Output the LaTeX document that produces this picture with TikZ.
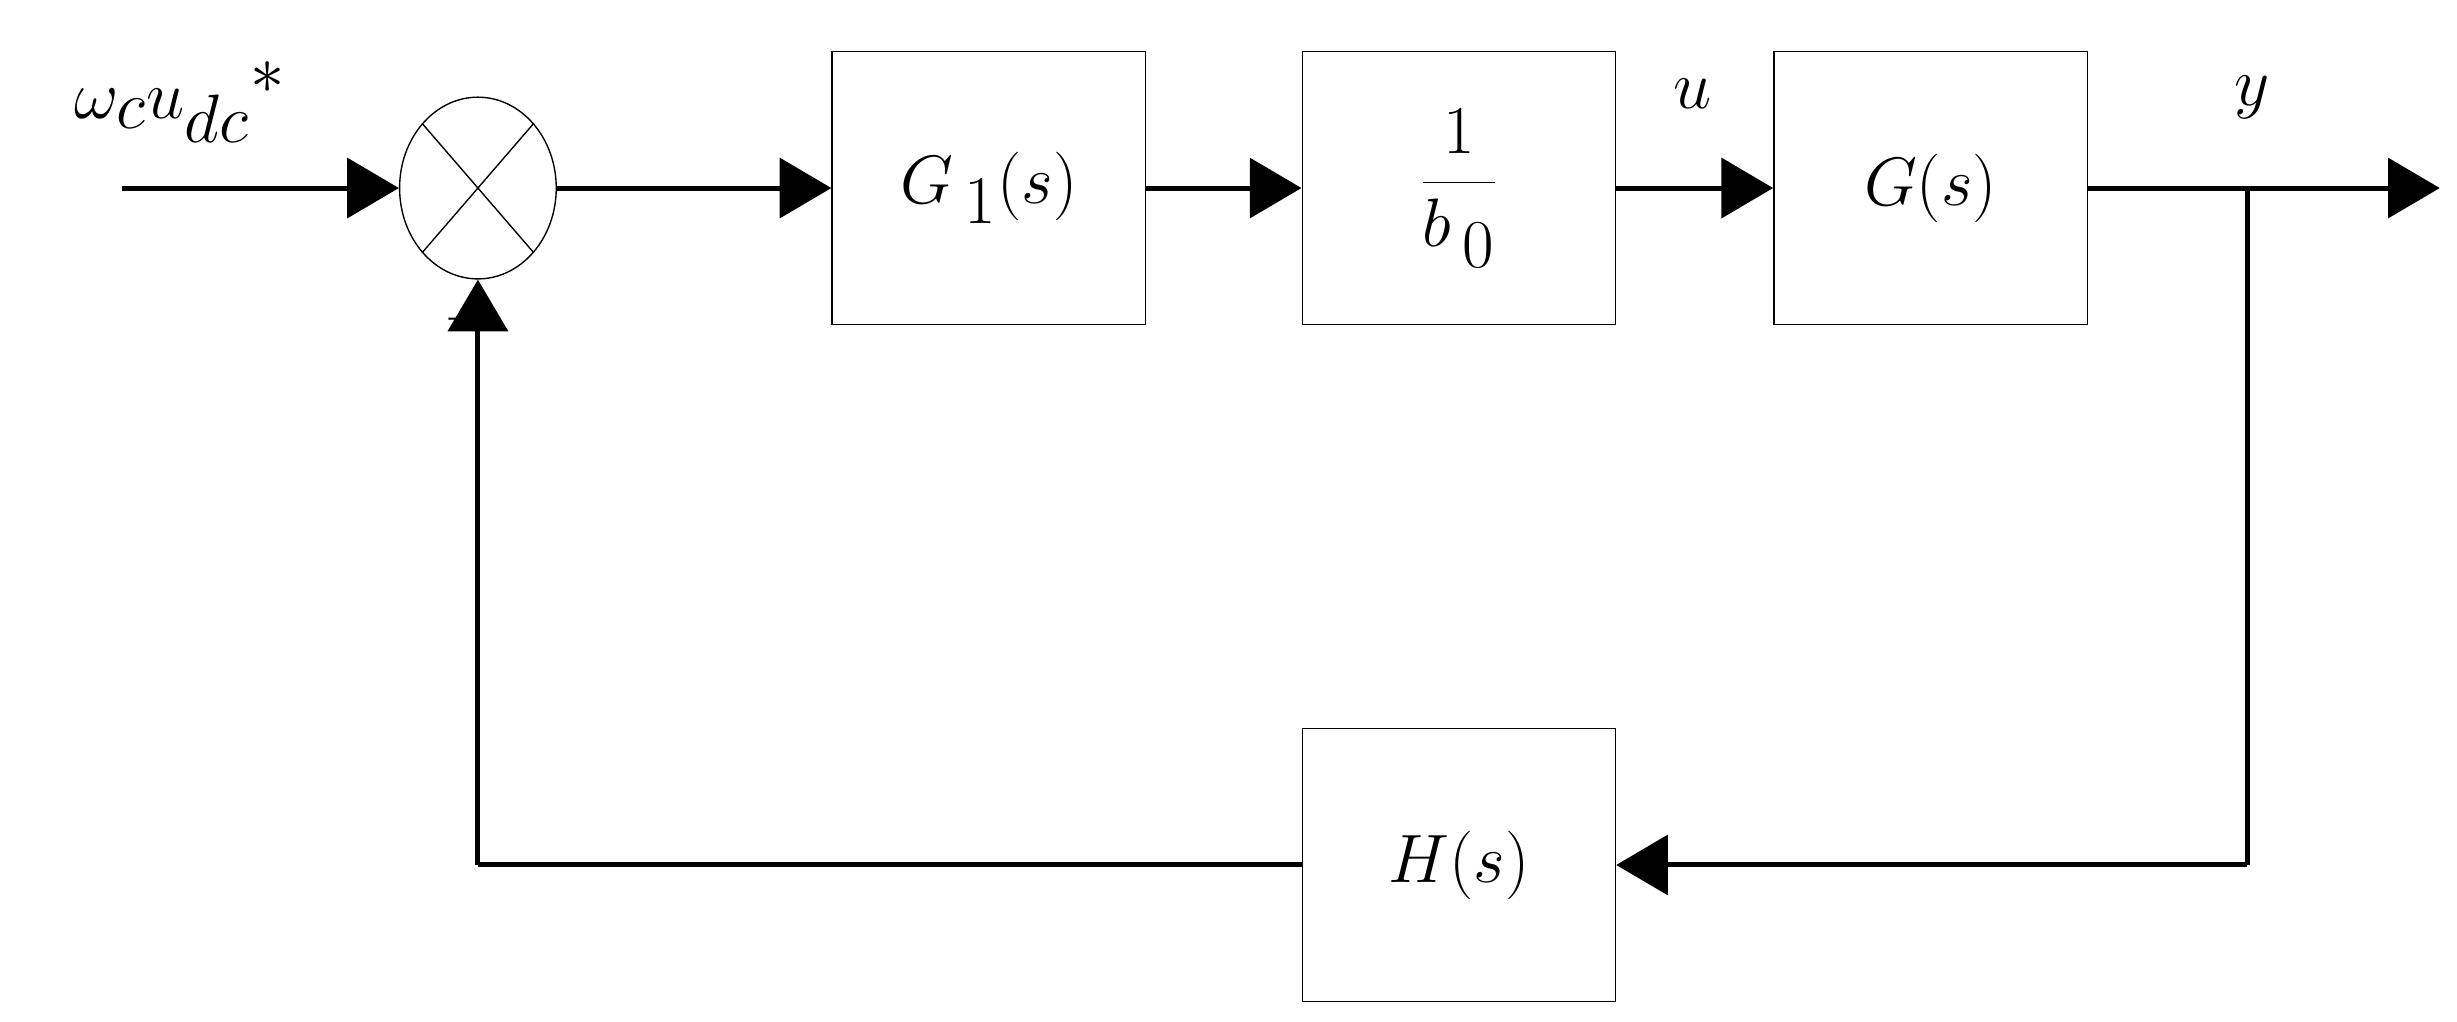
\documentclass[tikz,border=0pt]{standalone}
\usetikzlibrary{arrows.meta,shapes.geometric}
\begin{document}
\begin{tikzpicture}[x=0.02cm,y=-0.02cm,
  blk/.style={draw,line width=0.5pt,minimum width=4cm,minimum height=3.48cm,inner sep=0pt,font=\fontsize{40}{48}\selectfont},
  sig/.style={line width=1.8pt,-{Triangle[length=0.66cm,width=0.76cm]}},
  wire/.style={line width=1.8pt},
  lab/.style={font=\fontsize{40}{48}\selectfont}]
\useasboundingbox (0,0) rectangle (1568,652);
\node[blk] (g1) at (631,120) {$G_{\,1}(s)$};
\node[blk] (b0) at (931,120) {$\displaystyle\frac{1}{b_{\,0}}$};
\node[blk] (g) at (1232,120) {$G(s)$};
\node[blk] (h) at (931,552) {$H(s)$};
\node[draw,ellipse,line width=0.5pt,minimum width=2cm,minimum height=2.32cm,inner sep=0pt] (sum) at (305,120) {};
\draw[line width=0.5pt] (sum.north west) -- (sum.south east) (sum.north east) -- (sum.south west);
\coordinate (in) at (78,120);
\coordinate (out) at (1557,120);
\coordinate (br) at (1434,120);
\coordinate (c1) at (1434,552);
\coordinate (c2) at (305,552);
\draw[sig] (in) -- (sum.west);
\draw[sig] (sum.east) -- (g1.west);
\draw[sig] (g1.east) -- (b0.west);
\draw[sig] (b0.east) -- (g.west);
\draw[sig] (g.east) -- (out);
\draw[wire] (br) -- (c1);
\draw[sig] (c1) -- (h.east);
\draw[wire] (h.west) -- (c2);
\draw[sig] (c2) -- (sum.south);
\node[font=\fontsize{52}{60}\selectfont] (inl) at (115,65) {$\omega_c u_{dc}{}^{*}$};
\node[lab] (ul) at (1080,60) {$u$};
\node[lab] (yl) at (1437,62) {$y$};
\node[font=\fontsize{14}{16}\selectfont] (minus) at (290,206) {-};
\end{tikzpicture}
\end{document}
